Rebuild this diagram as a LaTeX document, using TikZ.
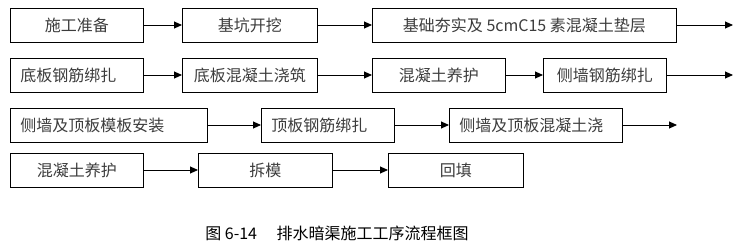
\documentclass[tikz,border=0pt]{standalone}
\usepackage{fontspec}
\usepackage{xcolor}
\usetikzlibrary{positioning, arrows.meta}
\newfontfamily\cjk{Noto Sans CJK SC}
\definecolor{boxline} {RGB}{0,   0,   0}
\definecolor{bodytext}{RGB}{60,  60,  60}

\tikzset{
  procbox/.style={draw=boxline, line width=0.9pt, minimum height=34pt,
    inner sep=0pt, anchor=west, text=bodytext, font=\cjk\fontsize{16}{19}\selectfont},
  leftbox/.style={procbox, align=left, inner xsep=10pt},
  flow/.style={line width=0.9pt, -{Triangle[length=8pt, width=7pt]}}
}

\begin{document}
\begin{tikzpicture}[x=1pt, y=-1pt]
  \useasboundingbox (0,0) rectangle (741,244);
  % row 1
  \node[procbox, minimum width=133pt] (prep) at (10,25)  {施工准备};
  \node[procbox, minimum width=135pt] (dig)  at (182,25) {基坑开挖};
  \node[procbox, minimum width=304pt] (base) at (372,25) {基础夯实及 5cmC15 素混凝土垫层};
  \coordinate (end1) at (733,25);
  % row 2
  \node[leftbox, text width=113pt]    (floorbar)  at (10,75)  {底板钢筋绑扎};
  \node[procbox, minimum width=135pt] (floorpour) at (182,75) {底板混凝土浇筑};
  \node[procbox, minimum width=133pt] (cureA)     at (372,75) {混凝土养护};
  \node[procbox, minimum width=123pt] (wallbar)   at (543,75) {侧墙钢筋绑扎};
  \coordinate (end2) at (733,75);
  % row 3
  \node[leftbox, text width=177pt] (form)     at (10,125)  {侧墙及顶板模板安装};
  \node[leftbox, text width=113pt] (roofbar)  at (261,125) {顶板钢筋绑扎};
  \node[leftbox, text width=153pt] (roofpour) at (449,125) {侧墙及顶板混凝土浇};
  \coordinate (end3) at (677,125);
  % row 4
  \node[procbox, minimum width=133pt] (cureB)  at (10,170)  {混凝土养护};
  \node[procbox, minimum width=134pt] (strip)  at (198,170) {拆模};
  \node[procbox, minimum width=135pt] (refill) at (388,170) {回填};

  \draw[flow] (prep) -- (dig);
  \draw[flow] (dig) -- (base);
  \draw[flow] (base) -- (end1);
  \draw[flow] (floorbar) -- (floorpour);
  \draw[flow] (floorpour) -- (cureA);
  \draw[flow] (cureA) -- (wallbar);
  \draw[flow] (wallbar) -- (end2);
  \draw[flow] (form) -- (roofbar);
  \draw[flow] (roofbar) -- (roofpour);
  \draw[flow] (roofpour) -- (end3);
  \draw[flow] (cureB) -- (strip);
  \draw[flow] (strip) -- (refill);

  \node[text=black, font=\cjk\fontsize{16}{19}\selectfont] (caption) at (337,233)
       {图 6-14\quad\ 排水暗渠施工工序流程框图};
\end{tikzpicture}
\end{document}
